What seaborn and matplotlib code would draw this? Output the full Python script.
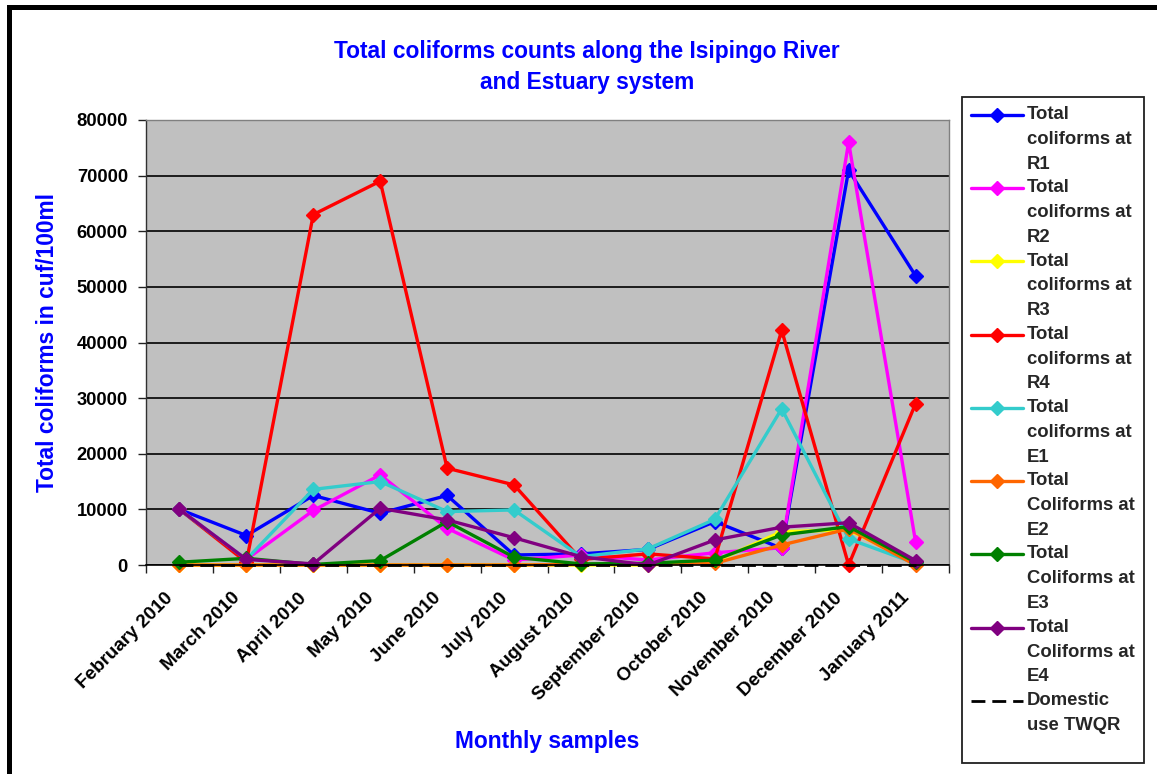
import numpy as np
import matplotlib
matplotlib.use("Agg")
import matplotlib.pyplot as plt
import seaborn as sns
from matplotlib.legend_handler import HandlerLine2D
from matplotlib.patches import Rectangle
from matplotlib.ticker import FixedLocator
from matplotlib.transforms import ScaledTranslation

# ---- data -------------------------------------------------------------
months = ["February 2010", "March 2010", "April 2010", "May 2010", "June 2010",
          "July 2010", "August 2010", "September 2010", "October 2010",
          "November 2010", "December 2010", "January 2011"]

r1 = [10000, 5300, 12500, 9300, 12500, 1800, 2000, 2800, 7800, 3000, 71000, 52000]
r2 = [10000, 1000, 9800, 16200, 6600, 900, 1800, 900, 2200, 3100, 76000, 4200]
r3 = [0, 0, 0, 0, 0, 0, 0, 0, 600, 6000, 6300, 300]
r4 = [10000, 500, 63000, 69000, 17400, 14400, 1000, 2000, 1100, 42200, 0, 29000]
e1 = [10000, 1000, 13600, 15000, 9600, 9900, 1500, 2900, 8200, 28100, 4700, 300]
e2 = [0, 0, 0, 0, 0, 0, 100, 200, 300, 3600, 6500, 0]
e3 = [500, 1200, 100, 800, 7800, 1400, 200, 300, 900, 5400, 6900, 500]
e4 = [10000, 1000, 200, 10200, 8100, 4900, 1500, 0, 4500, 6800, 7600, 800]
twqr = [0, 0, 0, 0, 0, 0, 0, 0, 0, 0, 0, 0]

series_labels = ["Total\ncoliforms at\nR1", "Total\ncoliforms at\nR2",
                 "Total\ncoliforms at\nR3", "Total\ncoliforms at\nR4",
                 "Total\ncoliforms at\nE1", "Total\nColiforms at\nE2",
                 "Total\nColiforms at\nE3", "Total\nColiforms at\nE4"]
twqr_label = "Domestic\nuse TWQR"

y_ticks = [0, 10000, 20000, 30000, 40000, 50000, 60000, 70000, 80000]

colors = ["#0000ff", "#ff00ff", "#ffff00", "#ff0000",
          "#33cccc", "#ff6600", "#008000", "#800080"]

# ---- style ------------------------------------------------------------
sns.set_style("ticks")
plt.rcParams["font.family"] = ["Liberation Sans", "DejaVu Sans"]
plt.rcParams["font.weight"] = "bold"

W, H = 1157, 774
fig = plt.figure(figsize=(W / 100, H / 100), dpi=100)
fig.patch.set_facecolor("white")
ax = fig.add_axes([146 / W, 1 - 565 / H, 803 / W, 445 / H])
ax.set_facecolor("#c0c0c0")

# ---- series -----------------------------------------------------------
for vals, col, lab in zip([r1, r2, r3, r4, e1, e2, e3, e4], colors, series_labels):
    sns.lineplot(x=months, y=vals, ax=ax, color=col, linewidth=2.4,
                 marker="D", markersize=7, markeredgecolor=col,
                 markeredgewidth=1, label=lab, sort=False, clip_on=False)

sns.lineplot(x=months, y=twqr, ax=ax, color="black", linewidth=2,
             linestyle=(0, (5, 2.5)), label=twqr_label, sort=False,
             clip_on=False)

# ---- axes -------------------------------------------------------------
ax.set_xlim(-0.5, len(months) - 0.5)
ax.set_ylim(y_ticks[0], y_ticks[-1])
ax.set_yticks(y_ticks)
ax.set_yticklabels([str(v) for v in y_ticks])
ax.set_xticks(range(len(months)))
ax.set_xticklabels(months)
ax.xaxis.set_minor_locator(FixedLocator(np.arange(-0.5, len(months), 1.0)))

ax.tick_params(axis="y", which="major", length=6, width=1, color="#202020",
               pad=7, labelsize=13.2, labelcolor="black")
ax.tick_params(axis="x", which="major", length=0, pad=22, labelsize=13.6,
               labelcolor="black")
ax.tick_params(axis="x", which="minor", length=6, width=1, color="#202020")
shift_left = ScaledTranslation(-0.09, 0, fig.dpi_scale_trans)
for t in ax.get_xticklabels():
    t.set_rotation(45)
    t.set_ha("right")
    t.set_va("center")
    t.set_rotation_mode("anchor")
    t.set_fontweight("bold")
    t.set_transform(t.get_transform() + shift_left)
for t in ax.get_yticklabels():
    t.set_fontweight("bold")

ax.yaxis.grid(True, color="black", linewidth=1.2)
ax.set_axisbelow(True)
ax.get_ygridlines()[-1].set_visible(False)

for side in ["top", "right"]:
    ax.spines[side].set_visible(True)
    ax.spines[side].set_color("#808080")
    ax.spines[side].set_linewidth(1)
ax.spines["left"].set_color("#303030")
ax.spines["bottom"].set_color("black")
ax.spines["left"].set_linewidth(1)
ax.spines["bottom"].set_linewidth(1.2)

ax.set_ylabel("Total coliforms in cuf/100ml", color="#0000ff",
              fontsize=16.4, fontweight="bold")
ax.yaxis.set_label_coords(-0.108, 0.5)
ax.set_xlabel("Monthly samples", color="#0000ff", fontsize=16.4,
              fontweight="bold", va="top")
ax.xaxis.set_label_coords(0.5, -0.37)

fig.text(587 / W, 1 - 40 / H,
         "Total coliforms counts along the Isipingo River\nand Estuary system",
         ha="center", va="top", color="#0000ff", fontsize=16.4,
         fontweight="bold", linespacing=1.45)


# ---- legend -----------------------------------------------------------
class FirstLineHandler(HandlerLine2D):
    """Line handle placed beside the first line of a multi-line label."""

    def __init__(self, lift, **kw):
        super().__init__(**kw)
        self.lift = lift

    def create_artists(self, legend, orig_handle, xdescent, ydescent,
                       width, height, fontsize, trans):
        artists = super().create_artists(legend, orig_handle, xdescent,
                                         ydescent, width, height, fontsize,
                                         trans)
        for a in artists:
            a.set_ydata(np.asarray(a.get_ydata(), dtype=float) + self.lift)
        return artists


leg_fs = 13.3
leg_ls = 1.6
pitch_pt = 17.6
handles, labels = ax.get_legend_handles_labels()
hmap = {h: FirstLineHandler(lift=lab.count("\n") * pitch_pt / 2, numpoints=1)
        for h, lab in zip(handles, labels)}
leg = ax.legend(handles, labels, handler_map=hmap, loc="upper left",
                bbox_to_anchor=(971 / W, 1 - 106 / H),
                bbox_transform=fig.transFigure, frameon=False,
                prop={"family": "Liberation Sans", "weight": "bold",
                      "size": leg_fs},
                handlelength=2.8, handletextpad=0.22, labelspacing=0.36,
                borderpad=0, borderaxespad=0)
for t in leg.get_texts():
    t.set_linespacing(leg_ls)

fig.add_artist(Rectangle((962 / W, 1 - 763 / H), 182 / W, 666 / H,
                         transform=fig.transFigure, facecolor="none",
                         edgecolor="#202020", linewidth=1.3))
# outer frame (top and left edges)
fig.add_artist(Rectangle((9 / W, -0.2), 1.4, 1.2 - 7 / H,
                         transform=fig.transFigure, facecolor="none",
                         edgecolor="black", linewidth=3.6, clip_on=False))

fig.savefig("out.png", dpi=100)
